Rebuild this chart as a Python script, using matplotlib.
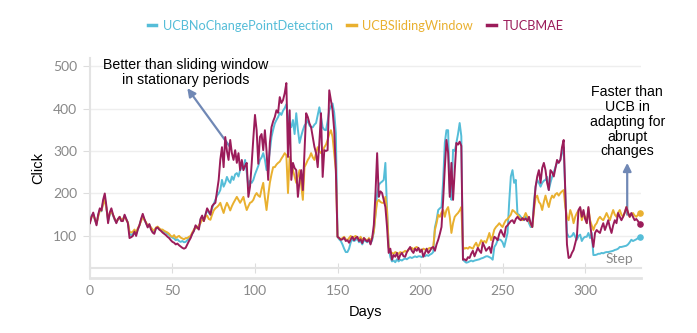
import numpy as np
import matplotlib
matplotlib.use("Agg")
import matplotlib.pyplot as plt
from matplotlib.lines import Line2D

# daily clicks per policy
tucbmae = [
    130, 145, 155, 140, 125, 150, 165, 160, 185, 200,
    170, 130, 155, 165, 150, 140, 130, 140, 145, 135,
    135, 150, 140, 130, 95, 97, 100, 110, 100, 115,
    125, 140, 152, 140, 130, 120, 128, 115, 108, 105,
    118, 120, 115, 112, 108, 105, 102, 98, 95, 90,
    86, 84, 80, 82, 78, 75, 72, 70, 72, 80,
    88, 95, 105, 112, 125, 120, 115, 140, 148, 135,
    150, 165, 158, 150, 170, 175, 178, 205, 232, 280,
    309, 262, 333, 300, 279, 326, 295, 279, 302, 272,
    295, 255, 279, 255, 265, 272, 192, 216, 270, 330,
    385, 349, 270, 333, 340, 302, 349, 300, 232, 319,
    356, 370, 380, 396, 390, 427, 413, 420, 436, 460,
    286, 396, 232, 272, 260, 255, 192, 230, 255, 208,
    300, 389, 380, 365, 356, 333, 310, 295, 262, 320,
    389, 239, 302, 300, 302, 443, 420, 396, 349, 255,
    98, 95, 91, 92, 96, 88, 90, 84, 92, 98,
    90, 95, 98, 88, 92, 83, 95, 90, 87, 92,
    80, 95, 126, 200, 295, 192, 205, 201, 185, 168,
    121, 60, 70, 44, 55, 51, 60, 45, 55, 60,
    52, 51, 62, 68, 74, 65, 60, 70, 65, 72,
    62, 68, 51, 60, 70, 60, 65, 72, 74, 65,
    80, 91, 105, 121, 185, 260, 326, 296, 192, 272,
    185, 250, 319, 315, 322, 312, 44, 45, 42, 50,
    48, 58, 65, 52, 62, 72, 65, 60, 84, 75,
    65, 70, 74, 60, 85, 98, 95, 90, 105, 114,
    105, 98, 121, 125, 130, 135, 137, 130, 140, 145,
    140, 137, 142, 138, 141, 135, 145, 130, 121, 170,
    216, 240, 255, 225, 260, 272, 255, 225, 208, 255,
    250, 240, 260, 279, 272, 279, 309, 326, 200, 80,
    48, 50, 60, 67, 82, 98, 161, 168, 145, 161,
    140, 130, 168, 130, 98, 74, 107, 114, 110, 107,
    120, 130, 114, 125, 137, 120, 107, 125, 137, 130,
    154, 145, 137, 145, 155, 168, 155, 145, 154, 145,
    137, 140, 135, 128,
]

ucb_no_cpd = [
    135, 148, 152, 138, 128, 148, 162, 158, 180, 190,
    165, 135, 150, 160, 148, 138, 132, 140, 142, 136,
    138, 148, 140, 132, 105, 102, 105, 112, 105, 115,
    125, 138, 148, 138, 130, 122, 126, 118, 112, 108,
    118, 120, 116, 114, 112, 110, 108, 105, 102, 98,
    96, 94, 90, 92, 88, 86, 88, 85, 86, 90,
    93, 98, 105, 112, 122, 120, 118, 138, 145, 135,
    150, 160, 155, 150, 165, 175, 185, 195, 200, 208,
    232, 216, 225, 239, 230, 225, 240, 232, 245, 248,
    240, 255, 262, 258, 279, 250, 215, 230, 225, 232,
    245, 255, 265, 279, 285, 295, 280, 255, 270, 300,
    333, 350, 365, 373, 380, 390, 385, 395, 401, 410,
    380, 365, 356, 373, 340, 389, 350, 319, 335, 349,
    360, 365, 373, 360, 356, 356, 362, 366, 385, 403,
    380, 356, 350, 349, 370, 396, 405, 412, 390, 342,
    98, 92, 88, 80, 70, 62, 62, 70, 85, 92,
    88, 90, 95, 85, 88, 80, 90, 88, 85, 90,
    82, 90, 110, 150, 200, 220, 225, 228, 232, 272,
    161, 74, 50, 40, 42, 38, 45, 40, 44, 42,
    45, 47, 45, 48, 50, 48, 50, 52, 50, 52,
    52, 50, 54, 52, 55, 53, 56, 58, 62, 120,
    137, 161, 165, 168, 230, 319, 349, 349, 201, 185,
    303, 300, 319, 340, 366, 335, 44, 40, 37, 38,
    40, 42, 40, 42, 43, 44, 45, 47, 48, 50,
    52, 52, 50, 48, 44, 74, 80, 90, 92, 90,
    85, 74, 90, 107, 180, 240, 255, 225, 232, 152,
    150, 145, 140, 137, 145, 140, 130, 121, 121, 180,
    216, 232, 225, 216, 225, 230, 232, 239, 208, 225,
    239, 250, 262, 272, 275, 279, 295, 309, 200, 107,
    98, 98, 100, 107, 98, 91, 100, 103, 88, 95,
    98, 98, 107, 95, 107, 55, 55, 56, 58, 58,
    60, 59, 61, 62, 62, 63, 64, 65, 67, 68,
    70, 74, 74, 75, 76, 77, 80, 85, 91, 88,
    90, 92, 95, 98,
]

ucb_sliding = [
    132, 145, 150, 140, 130, 145, 160, 160, 175, 185,
    165, 140, 152, 158, 150, 140, 135, 138, 145, 138,
    140, 145, 138, 132, 110, 108, 110, 115, 108, 118,
    125, 135, 145, 138, 132, 125, 125, 120, 115, 112,
    120, 122, 118, 115, 115, 112, 110, 108, 105, 100,
    98, 102, 95, 98, 100, 96, 94, 92, 95, 95,
    98, 100, 108, 115, 120, 118, 125, 130, 140, 135,
    145, 148, 140, 138, 150, 160, 165, 168, 172, 178,
    165, 154, 168, 178, 170, 160, 170, 178, 185, 192,
    185, 178, 185, 192, 175, 161, 170, 178, 180, 185,
    195, 201, 195, 192, 210, 225, 190, 161, 195, 225,
    245, 262, 262, 268, 272, 275, 282, 288, 295, 290,
    201, 286, 270, 255, 240, 225, 240, 255, 220, 185,
    262, 270, 279, 285, 295, 285, 279, 295, 309, 300,
    295, 300, 309, 315, 326, 340, 349, 333, 295, 255,
    98, 95, 92, 95, 98, 92, 90, 95, 100, 95,
    98, 100, 95, 92, 98, 90, 95, 92, 88, 95,
    90, 95, 110, 150, 180, 185, 180, 178, 178, 192,
    161, 74, 62, 60, 58, 62, 60, 58, 62, 60,
    62, 65, 62, 68, 70, 72, 68, 72, 74, 70,
    68, 65, 70, 68, 65, 70, 72, 70, 74, 114,
    130, 150, 145, 155, 161, 145, 161, 168, 145, 107,
    130, 145, 150, 154, 160, 168, 74, 70, 72, 70,
    74, 72, 70, 78, 84, 74, 80, 90, 85, 88,
    84, 95, 107, 90, 100, 115, 121, 125, 130, 125,
    121, 130, 137, 140, 145, 150, 161, 158, 154, 150,
    145, 140, 137, 145, 154, 145, 137, 128, 121, 160,
    190, 195, 180, 175, 161, 180, 195, 180, 168, 185,
    195, 190, 198, 201, 195, 201, 205, 208, 168, 145,
    137, 161, 150, 130, 145, 154, 160, 165, 137, 150,
    145, 130, 165, 137, 125, 114, 125, 130, 140, 145,
    140, 137, 145, 154, 145, 137, 150, 161, 150, 145,
    155, 161, 150, 145, 155, 168, 155, 145, 150, 154,
    148, 145, 150, 154,
]

names = ["UCBNoChangePointDetection", "UCBSlidingWindow", "TUCBMAE"]
colors = ["#55bdd8", "#e9b02f", "#9b1c5a"]
x_ticks = [0, 50, 100, 150, 200, 250, 300]
y_ticks = [100, 200, 300, 400, 500]

fig = plt.figure(figsize=(6.97, 3.33), dpi=100)
ax = fig.add_axes([0.129, 0.164, 0.791, 0.663])

series = [ucb_no_cpd, ucb_sliding, tucbmae]
order = [1, 0, 2]
for i in order:
    vals = np.array(series[i])
    days = np.arange(len(vals))
    ax.plot(days, vals, color=colors[i], lw=1.4, zorder=3 + i)
    ax.scatter(days[-1], vals[-1], s=14, color=colors[i], zorder=6, clip_on=False)

ax.set_xlim(0, 334)
ax.set_ylim(0, 520)
ax.set_xticks(x_ticks)
ax.set_yticks(y_ticks)
ax.grid(axis="y", color="#eeeeee", lw=1)
ax.set_axisbelow(True)

for s in ["top", "right"]:
    ax.spines[s].set_visible(False)
ax.spines["left"].set_color("#e3e3e3")
ax.spines["left"].set_linewidth(1.5)
ax.spines["bottom"].set_position(("data", 25))
ax.spines["bottom"].set_color("#e3e3e3")
ax.spines["bottom"].set_linewidth(1.5)
ax.axhline(0, color="#e3e3e3", lw=2, clip_on=False)

ax.tick_params(axis="x", direction="inout", length=7, color="#dddddd",
               labelcolor="#888888", labelsize=10, pad=9)
ax.tick_params(axis="y", length=5, color="#dddddd",
               labelcolor="#888888", labelsize=10, pad=4)
for lab in ax.get_xticklabels() + ax.get_yticklabels():
    lab.set_family("Lato")

ax.set_xlabel("Days", family="Liberation Sans", fontsize=10.5, labelpad=6)
ax.set_ylabel("Click", family="Liberation Sans", fontsize=10.5, labelpad=6)

# legend along the top, labels tinted with the line colour
handles = [Line2D([], [], color=c, lw=2.5) for c in colors]
fig.legend(handles, names, loc="upper center", bbox_to_anchor=(0.51, 0.975),
           ncol=3, frameon=False, handlelength=0.7, handletextpad=0.5,
           columnspacing=1.1, prop={"family": "Lato", "size": 9.2},
           labelcolor="linecolor")

arrow_kw = dict(arrowstyle="-|>", color="#7088b5", lw=1.6, mutation_scale=12,
                shrinkA=0, shrinkB=0)
ax.annotate("", xy=(59, 448), xytext=(85, 309), arrowprops=arrow_kw)
ax.text(58, 485, "Better than sliding window\nin stationary periods",
        fontsize=10.2, family="Liberation Sans", ha="center", va="center",
        linespacing=1.1)
ax.annotate("", xy=(325.5, 272), xytext=(325.5, 150), arrowprops=arrow_kw)
ax.text(325.5, 369, "Faster than\nUCB in\nadapting for\nabrupt\nchanges",
        fontsize=10.2, family="Liberation Sans", ha="center", va="center",
        linespacing=1.08)
ax.text(321, 46, "Step", fontsize=10, family="Lato", color="#888888",
        ha="center", va="center")

fig.savefig("out.png", dpi=100)
